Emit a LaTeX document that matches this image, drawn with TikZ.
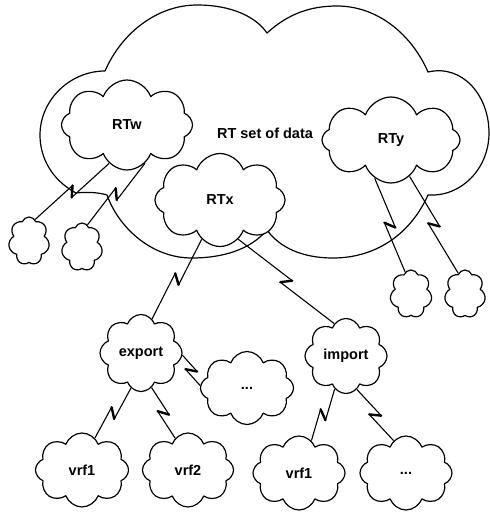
\documentclass[tikz,border=0pt]{standalone}
\usepackage{fontspec}
\setmainfont{Liberation Sans}
\usetikzlibrary{shapes.symbols,calc}

\tikzset{
  outline/.style={line width=1.2pt, line join=round},
  puff/.style={cloud, cloud puffs=8, cloud puff arc=140, cloud ignores aspect,
    draw, outline, fill=white, inner sep=0pt,
    font=\fontsize{14.5}{16}\selectfont\bfseries},
  small puff/.style={puff, cloud puffs=7},
  wire/.style={line width=1.1pt},
  zig/.style={line width=2.4pt, line cap=round},
}

% connector with a lightning jog in the middle
\newcommand{\bolt}[2]{%
  \path (#1) -- (#2) coordinate[pos=0.5] (bm);
  \coordinate (bp) at ($(bm)!4pt!(#2)$);
  \coordinate (bq) at ($(bm)!-4pt!(#2)$);
  \coordinate (b1) at ($(bp)!4.5pt!90:(#2)$);
  \coordinate (b2) at ($(bq)!4.5pt!-90:(#2)$);
  \draw[wire] (#1) -- (b1);
  \draw[wire] (b2) -- (#2);
  \draw[zig] (b1) -- (b2);
}

\begin{document}
\begin{tikzpicture}[x=1pt,y=-1pt]
  \fill[white] (0,0) rectangle (490,512);
  \useasboundingbox (0,0) rectangle (490,512);

  % large outer cloud
  \draw[outline] (105,71) .. controls (122,32) and (158,5) .. (197,5)
    .. controls (232,5) and (256,17) .. (267,33)
    .. controls (288,14) and (310,6) .. (337,6)
    .. controls (378,6) and (412,35) .. (428,72)
    .. controls (462,64) and (489,95) .. (489,133)
    .. controls (489,168) and (462,197) .. (428,195)
    .. controls (410,235) and (375,258) .. (333,258)
    .. controls (303,258) and (280,248) .. (267,230)
    .. controls (250,250) and (222,258) .. (192,258)
    .. controls (150,258) and (118,226) .. (107,195)
    .. controls (97,192) and (86,192) .. (76,193)
    .. controls (52,180) and (40,158) .. (40,135)
    .. controls (40,100) and (70,71) .. (105,71) -- cycle;

  \node[font=\fontsize{14.5}{16}\selectfont\bfseries] (set) at (265,133) {RT set of data};

  % clouds
  \node[puff, minimum width=131, minimum height=90] (rtw) at (127,125) {RTw};
  \node[puff, minimum width=138, minimum height=86] (rty) at (391,140) {RTy};
  \node[puff, minimum width=130, minimum height=93] (rtx) at (220,200) {RTx};

  \node[small puff, minimum width=41, minimum height=48] (t1) at (29,241) {};
  \node[small puff, minimum width=41, minimum height=48] (t2) at (82,247) {};
  \node[small puff, minimum width=42, minimum height=48] (t3) at (411,294) {};
  \node[small puff, minimum width=41, minimum height=48] (t4) at (465,294) {};

  \node[puff, minimum width=82, minimum height=77] (exp) at (141,353) {export};
  \node[puff, minimum width=93, minimum height=73] (dA) at (247,388) {...};
  \node[puff, minimum width=82, minimum height=75] (imp) at (346,356) {import};

  \node[puff, minimum width=93, minimum height=74] (va) at (82,470) {vrf1};
  \node[puff, minimum width=91, minimum height=74] (vb) at (188,470) {vrf2};
  \node[puff, minimum width=92, minimum height=74] (vc) at (299,473) {vrf1};
  \node[puff, minimum width=92, minimum height=74] (dB) at (406,473) {...};

  % links
  \bolt{rtw.-115}{t1.74}
  \bolt{rtw.-65}{t2.76}
  \bolt{rty.-113}{t3.105}
  \bolt{rty.-63}{t4.108}
  \bolt{rtx.-115}{exp.72}
  \bolt{rtx.-65}{imp.110}
  \bolt{exp.-3}{dA.177}
  \bolt{exp.-106}{va.68}
  \bolt{exp.-73}{vb.112}
  \bolt{imp.-109}{vc.69}
  \bolt{imp.-72}{dB.111}
\end{tikzpicture}
\end{document}
